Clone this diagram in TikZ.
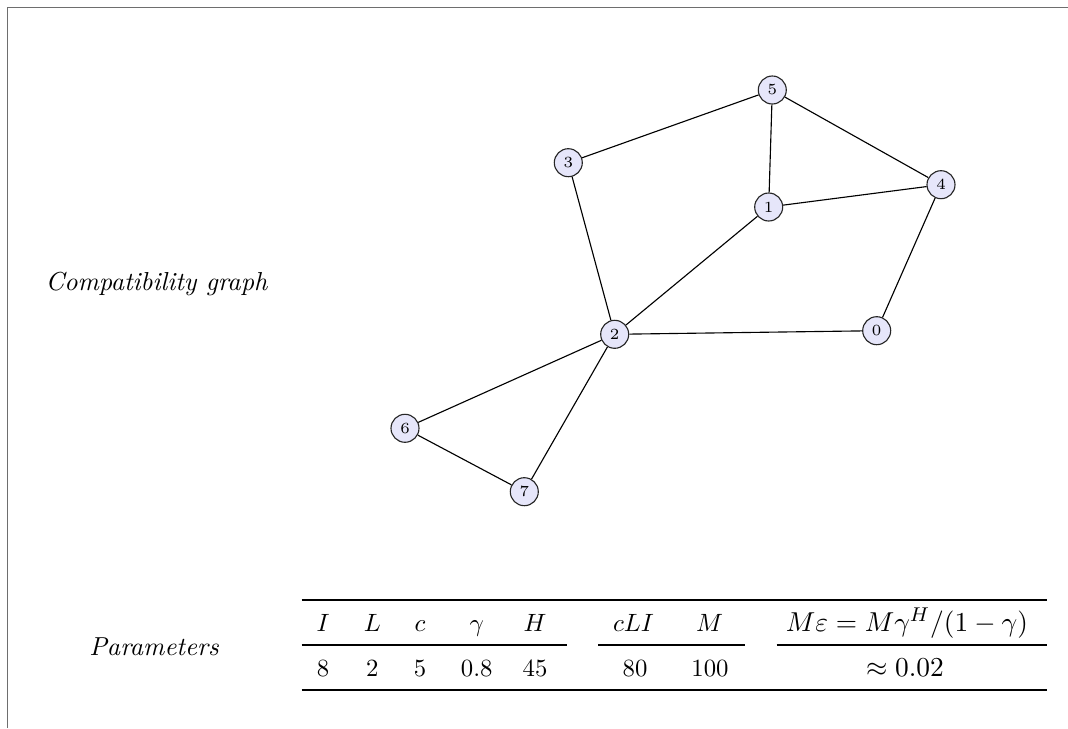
\documentclass[tikz,border=0pt]{standalone}
\definecolor{lav}{RGB}{230,230,250}
\definecolor{framegray}{RGB}{110,110,110}
\begin{document}
\begin{tikzpicture}[x=0.4pt,y=-0.4pt,
  vertex/.style={circle, draw=black!85, fill=lav, line width=0.45pt, minimum size=11.2pt, inner sep=0pt, font=\fontsize{6.2}{7}\selectfont},
  edge/.style={draw=black, line width=0.45pt},
  cell/.style={anchor=base, inner sep=0pt, font=\fontsize{9.9}{12}\selectfont},
  widecell/.style={anchor=base, inner sep=0pt, font=\fontsize{11.1}{13}\selectfont},
  lbl/.style={anchor=base, inner sep=0pt, font=\fontsize{10.4}{12}\selectfont\itshape},
  heavyrule/.style={line width=0.8pt},
  lightrule/.style={line width=0.5pt}]
\useasboundingbox (0,0) rectangle (1068,728);
% frame (only top and left edges visible)
\draw[framegray, line width=0.7pt] (7.5,728) -- (7.5,7.5) -- (1068,7.5);

% labels
\node[lbl] (lgraph) at (156.5,290) {Compatibility graph};
\node[lbl] (lparam) at (154,655) {Parameters};

% graph
\node[vertex] (n0) at (876.7,330.7) {0};
\node[vertex] (n1) at (768.7,207) {1};
\node[vertex] (n2) at (614.7,334.3) {2};
\node[vertex] (n3) at (568.3,162.7) {3};
\node[vertex] (n4) at (941,184.7) {4};
\node[vertex] (n5) at (772.3,90) {5};
\node[vertex] (n6) at (405,428.3) {6};
\node[vertex] (n7) at (524.3,491.7) {7};
\draw[edge] (n5) -- (n3);
\draw[edge] (n5) -- (n1);
\draw[edge] (n5) -- (n4);
\draw[edge] (n1) -- (n4);
\draw[edge] (n1) -- (n2);
\draw[edge] (n3) -- (n2);
\draw[edge] (n4) -- (n0);
\draw[edge] (n2) -- (n0);
\draw[edge] (n2) -- (n6);
\draw[edge] (n2) -- (n7);
\draw[edge] (n6) -- (n7);

% table rules
\draw[heavyrule] (301.7,600) -- (1047,600);
\draw[lightrule] (301.7,645) -- (566.7,645);
\draw[lightrule] (598,645) -- (745,645);
\draw[lightrule] (776.7,645) -- (1047,645);
\draw[heavyrule] (301.7,690) -- (1047,690);

% header row
\node[cell] (hI) at (323,631.7) {$I$};
\node[cell] (hL) at (372.3,631.7) {$L$};
\node[cell] (hc) at (420,631.7) {$c$};
\node[cell] (hg) at (476.7,631.7) {$\gamma$};
\node[cell] (hH) at (535,631.7) {$H$};
\node[cell] (hcLI) at (633.5,631.7) {$cLI$};
\node[cell] (hM) at (709.5,631.7) {$M$};
\node[widecell] (heps) at (907,631.7) {$M\varepsilon = M\gamma^H/(1-\gamma)$};

% body row
\node[cell] (bI) at (323,676.7) {8};
\node[cell] (bL) at (372.3,676.7) {2};
\node[cell] (bc) at (420,676.7) {5};
\node[cell] (bg) at (476.7,676.7) {0.8};
\node[cell] (bH) at (535,676.7) {45};
\node[cell] (bcLI) at (635,676.7) {80};
\node[cell] (bM) at (710,676.7) {100};
\node[widecell] (beps) at (905,676.7) {$\approx 0.02$};
\end{tikzpicture}
\end{document}
